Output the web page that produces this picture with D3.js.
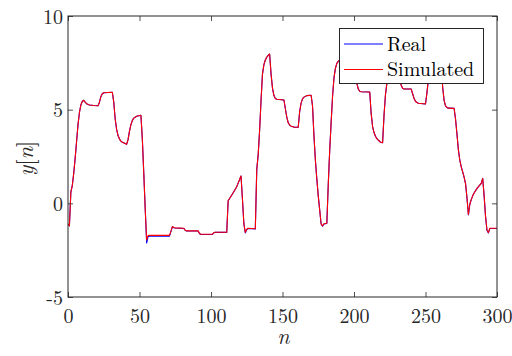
<!DOCTYPE html>
<html>
<head>
<meta charset="utf-8">
<script src="https://cdn.jsdelivr.net/npm/d3@7"></script>
<style>
  body { margin: 0; background: #ffffff; }
</style>
</head>
<body>
<svg id="chart" width="512" height="356"></svg>
<script>
// Sample indices n and the measured / simulated output y[n] at those indices
const sampleN = [
  0, 1, 2, 3, 4, 5, 6, 7, 8, 9, 10, 11, 12, 13, 15, 18, 21, 22, 23, 24, 25, 31,
  32, 33, 34, 35, 36, 37, 38, 40, 41, 42, 43, 44, 45, 46, 48, 51, 52, 53, 54, 55,
  56, 57, 71, 72, 73, 74, 75, 81, 82, 83, 91, 92, 93, 101, 102, 103, 111, 112,
  115, 118, 121, 122, 123, 124, 125, 126, 131, 132, 133, 134, 135, 136, 137, 138,
  139, 140, 141, 142, 143, 144, 145, 146, 151, 152, 153, 154, 155, 156, 158, 161,
  162, 163, 164, 165, 167, 170, 171, 172, 173, 174, 175, 176, 177, 178, 179, 181,
  182, 183, 184, 185, 186, 187, 188, 189, 190, 193, 196, 198, 199, 200, 201, 202,
  203, 204, 205, 211, 212, 213, 214, 215, 216, 217, 218, 219, 220, 221, 222, 223,
  224, 225, 226, 231, 232, 233, 234, 235, 240, 241, 242, 243, 244, 245, 250, 251,
  252, 253, 254, 255, 261, 262, 263, 264, 265, 266, 270, 271, 272, 273, 274, 275,
  276, 277, 278, 279, 280, 281, 282, 283, 284, 286, 289, 290, 291, 292, 293, 294,
  295, 300
];

const realY = [
  -1.10, -1.20, 0.60, 0.95, 1.60, 2.40, 3.30, 4.20, 4.85, 5.25, 5.45, 5.50, 5.40, 5.32, 5.25, 5.22, 5.21, 5.40, 5.70, 5.85, 5.90, 5.93,
  5.40, 4.50, 3.95, 3.62, 3.43, 3.32, 3.26, 3.19, 3.15, 3.40, 3.85, 4.20, 4.42, 4.55, 4.65, 4.70, 3.40, 1.60, -0.30, -2.12,
  -1.78, -1.74, -1.75, -1.50, -1.25, -1.30, -1.32, -1.34, -1.45, -1.48, -1.48, -1.62, -1.66, -1.66, -1.57, -1.55, -1.55, 0.14,
  0.50, 0.89, 1.46, 0.20, -1.10, -1.58, -1.40, -1.34, -1.37, 1.80, 2.60, 3.90, 5.50, 6.90, 7.40, 7.65,
  7.80, 7.90, 7.97, 6.90, 6.15, 5.75, 5.60, 5.56, 5.52, 5.05, 4.60, 4.30, 4.18, 4.12, 4.07, 4.06,
  4.90, 5.35, 5.58, 5.67, 5.75, 5.77, 5.20, 3.60, 2.30, 1.30, 0.40, -0.35, -1.10, -1.22, -1.10, -1.07,
  1.00, 2.80, 4.30, 5.70, 6.70, 7.20, 7.47, 7.58, 7.65, 7.80, 7.88, 7.92, 7.40, 7.00, 6.70, 6.40,
  6.10, 5.98, 5.96, 5.94, 4.80, 4.10, 3.78, 3.58, 3.45, 3.37, 3.30, 3.25, 3.24, 4.70, 5.80, 6.40,
  7.00, 7.40, 7.55, 7.60, 6.70, 6.30, 6.14, 6.11, 6.10, 5.85, 5.60, 5.45, 5.38, 5.34, 5.30, 5.90,
  6.60, 7.20, 7.50, 7.60, 7.60, 6.20, 5.50, 5.20, 5.12, 5.08, 5.07, 4.50, 3.70, 2.85, 2.30, 1.95,
  1.68, 1.40, 1.05, 0.30, -0.62, -0.05, 0.20, 0.40, 0.55, 0.80, 1.07, 1.33, 0.40, -0.70, -1.45, -1.58,
  -1.34, -1.34
];

const simY = [
  -1.10, -1.20, 0.60, 0.95, 1.60, 2.40, 3.30, 4.20, 4.85, 5.25, 5.45, 5.50, 5.40, 5.32, 5.25, 5.22, 5.21, 5.40, 5.70, 5.85, 5.90, 5.93,
  5.40, 4.50, 3.95, 3.62, 3.43, 3.32, 3.26, 3.19, 3.15, 3.40, 3.85, 4.20, 4.42, 4.55, 4.65, 4.70, 3.40, 1.60, -0.30, -1.95,
  -1.72, -1.70, -1.71, -1.48, -1.24, -1.29, -1.31, -1.33, -1.44, -1.47, -1.47, -1.61, -1.65, -1.65, -1.56, -1.54, -1.54, 0.14,
  0.50, 0.89, 1.46, 0.20, -1.10, -1.55, -1.38, -1.33, -1.36, 1.80, 2.60, 3.90, 5.50, 6.90, 7.40, 7.65,
  7.80, 7.90, 7.97, 6.90, 6.15, 5.75, 5.60, 5.56, 5.52, 5.05, 4.60, 4.30, 4.18, 4.12, 4.07, 4.06,
  4.90, 5.35, 5.58, 5.67, 5.75, 5.77, 5.20, 3.60, 2.30, 1.30, 0.40, -0.35, -1.10, -1.20, -1.09, -1.06,
  1.00, 2.80, 4.30, 5.70, 6.70, 7.20, 7.47, 7.58, 7.65, 7.80, 7.88, 7.92, 7.40, 7.00, 6.70, 6.40,
  6.10, 5.98, 5.96, 5.94, 4.80, 4.10, 3.78, 3.58, 3.45, 3.37, 3.30, 3.25, 3.24, 4.70, 5.80, 6.40,
  7.00, 7.40, 7.55, 7.60, 6.70, 6.30, 6.14, 6.11, 6.10, 5.85, 5.60, 5.45, 5.38, 5.34, 5.30, 5.90,
  6.60, 7.20, 7.50, 7.60, 7.60, 6.20, 5.50, 5.20, 5.12, 5.08, 5.07, 4.50, 3.70, 2.85, 2.30, 1.95,
  1.68, 1.40, 1.05, 0.30, -0.60, -0.05, 0.20, 0.40, 0.55, 0.80, 1.07, 1.33, 0.40, -0.70, -1.44, -1.56,
  -1.33, -1.33
];

const xTicks = [0, 50, 100, 150, 200, 250, 300];
const yTicks = [-5, 0, 5, 10];
const yTickLabels = ["-5", "0", "5", "10"];
const seriesNames = ["Real", "Simulated"];
const seriesColors = ["#0000ff", "#ff0000"];

const W = 512, H = 356;
const plot = { left: 68, right: 497, top: 16, bottom: 297 };
const axisColor = "#262626";
const fontStack = "'Latin Modern Roman', 'Liberation Serif', serif";
const fontSize = 20;
const labelSize = 22;

const svg = d3.select("#chart")
  .attr("font-family", fontStack);
svg.append("rect").attr("width", W).attr("height", H).attr("fill", "#ffffff");

const x = d3.scaleLinear().domain([0, 300]).range([plot.left, plot.right]);
const y = d3.scaleLinear().domain([-5, 10]).range([plot.bottom, plot.top]);

// Plot area clip
svg.append("defs").append("clipPath").attr("id", "plotClip")
  .append("rect")
  .attr("x", plot.left).attr("y", plot.top)
  .attr("width", plot.right - plot.left).attr("height", plot.bottom - plot.top);

// Series lines: measured first, simulated drawn over it
const series = [
  { name: seriesNames[0], color: seriesColors[0], values: realY },
  { name: seriesNames[1], color: seriesColors[1], values: simY }
];
const line = d3.line().x(d => x(d[0])).y(d => y(d[1]));
const lines = svg.append("g").attr("clip-path", "url(#plotClip)");
series.forEach(s => {
  lines.append("path")
    .datum(sampleN.map((n, i) => [n, s.values[i]]))
    .attr("fill", "none")
    .attr("stroke", s.color)
    .attr("stroke-width", 1.1)
    .attr("stroke-linejoin", "round")
    .attr("d", line);
});

// Axes with inward ticks on all four sides
function styleAxis(g) {
  g.attr("font-family", fontStack).attr("font-size", fontSize);
  g.select(".domain").remove();
  g.selectAll(".tick line").attr("stroke", axisColor).attr("stroke-width", 0.8);
  g.selectAll(".tick text").attr("fill", axisColor);
}

svg.append("g")
  .attr("transform", `translate(0,${plot.bottom})`)
  .call(d3.axisBottom(x).tickValues(xTicks).tickSizeInner(-5).tickSizeOuter(0).tickPadding(11.5))
  .call(styleAxis);

svg.append("g")
  .attr("transform", `translate(0,${plot.top})`)
  .call(d3.axisTop(x).tickValues(xTicks).tickSizeInner(-5).tickSizeOuter(0).tickFormat(""))
  .call(styleAxis);

svg.append("g")
  .attr("transform", `translate(${plot.left},0)`)
  .call(d3.axisLeft(y).tickValues(yTicks).tickSizeInner(-5).tickSizeOuter(0).tickPadding(5)
    .tickFormat((d, i) => yTickLabels[i]))
  .call(styleAxis)
  .call(g => g.selectAll(".tick text").attr("dy", "0.36em"));

svg.append("g")
  .attr("transform", `translate(${plot.right},0)`)
  .call(d3.axisRight(y).tickValues(yTicks).tickSizeInner(-5).tickSizeOuter(0).tickFormat(""))
  .call(styleAxis);

// Axes box
svg.append("rect")
  .attr("x", plot.left).attr("y", plot.top)
  .attr("width", plot.right - plot.left).attr("height", plot.bottom - plot.top)
  .attr("fill", "none").attr("stroke", axisColor).attr("stroke-width", 1);

// Axis labels
svg.append("text")
  .attr("x", (plot.left + plot.right) / 2 + 1)
  .attr("y", 344)
  .attr("text-anchor", "middle")
  .attr("font-size", labelSize)
  .attr("font-style", "italic")
  .attr("fill", axisColor)
  .text("n");

const yLabel = svg.append("text")
  .attr("transform", `translate(33,${(plot.top + plot.bottom) / 2 + 2}) rotate(-90)`)
  .attr("text-anchor", "middle")
  .attr("font-size", labelSize)
  .attr("fill", axisColor);
yLabel.append("tspan").attr("font-style", "italic").text("y");
yLabel.append("tspan").text("[");
yLabel.append("tspan").attr("font-style", "italic").text("n");
yLabel.append("tspan").text("]");

// Legend
const legend = svg.append("g");
legend.append("rect")
  .attr("x", 339.5).attr("y", 28.5).attr("width", 144).attr("height", 55)
  .attr("fill", "#ffffff").attr("stroke", axisColor).attr("stroke-width", 1);
series.forEach((s, i) => {
  const ly = 44 + i * 25.5;
  legend.append("line")
    .attr("x1", 344).attr("x2", 383).attr("y1", ly).attr("y2", ly)
    .attr("stroke", s.color).attr("stroke-width", 1);
  legend.append("text")
    .attr("x", 387).attr("y", ly + 6.7)
    .attr("font-size", fontSize)
    .attr("fill", "#000000")
    .text(s.name);
});
</script>
</body>
</html>
